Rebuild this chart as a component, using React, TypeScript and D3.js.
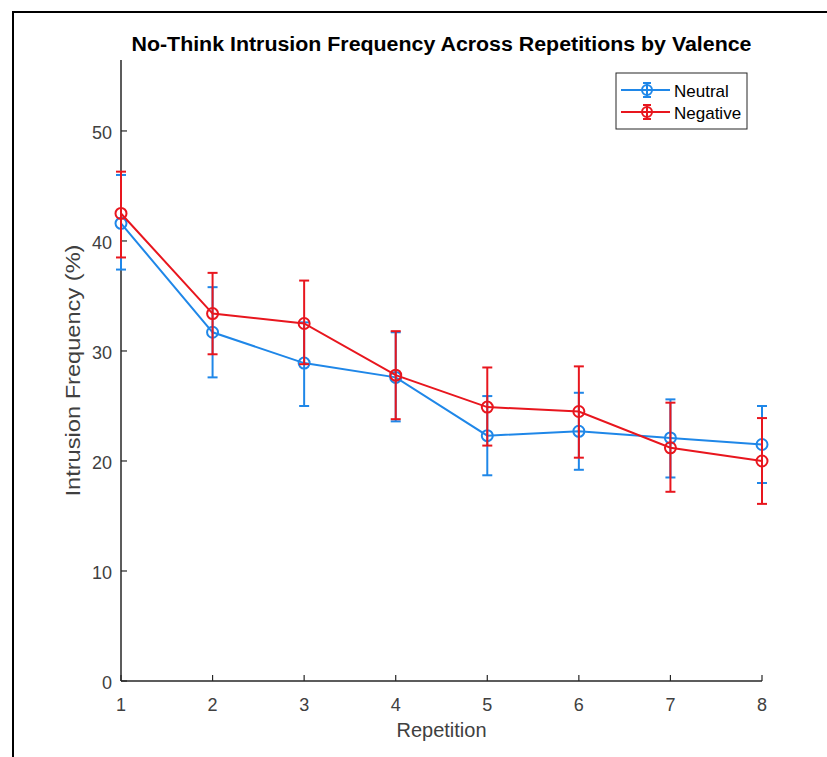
import * as d3 from 'd3'

const repetitions = [1, 2, 3, 4, 5, 6, 7, 8]
const neutralMean = [41.6, 31.7, 28.9, 27.6, 22.3, 22.7, 22.1, 21.5]
const neutralUpper = [46.0, 35.8, 32.6, 31.7, 25.9, 26.2, 25.6, 25.0]
const neutralLower = [37.4, 27.6, 25.0, 23.6, 18.7, 19.2, 18.5, 18.0]
const negativeMean = [42.5, 33.4, 32.5, 27.8, 24.9, 24.5, 21.2, 20.0]
const negativeUpper = [46.3, 37.1, 36.4, 31.8, 28.5, 28.6, 25.3, 23.9]
const negativeLower = [38.5, 29.7, 28.8, 23.8, 21.4, 20.3, 17.2, 16.1]
const yTicks = [0, 10, 20, 30, 40, 50]
const seriesNames = ['Neutral', 'Negative']

const FONT = '"Liberation Sans", Arial, Helvetica, sans-serif'
const AXIS = '#262626'
const LABEL = '#404040'

export default function App() {
  const width = 827, height = 757
  const margin = { top: 60, left: 121, right: 65, bottom: 76 }

  const x = d3.scaleLinear().domain([1, 8]).range([margin.left, width - margin.right])
  const y = d3.scaleLinear().domain([0, 56.45]).range([height - margin.bottom, margin.top])

  const series = [
    { name: seriesNames[0], color: '#1f87e8', mean: neutralMean, up: neutralUpper, lo: neutralLower },
    { name: seriesNames[1], color: '#e8161e', mean: negativeMean, up: negativeUpper, lo: negativeLower },
  ]

  const line = d3.line<number>()
    .x((_, i) => x(repetitions[i]))
    .y(d => y(d))

  const cap = 5
  const r = 5.5
  const x0 = x(1), x1 = x(8), yb = y(0), yt = y(56.45)

  return (
    <svg width={width} height={height} style={{ position: 'absolute', left: 0, top: 0, background: '#fff' }}>
      <rect x={13} y={12} width={width} height={height} fill="none" stroke="#000" strokeWidth={2} />

      <text x={(x0 + x1) / 2} y={51} textAnchor="middle" fontFamily={FONT} fontWeight="bold" fontSize={20}
        textLength={620} lengthAdjust="spacingAndGlyphs" fill="#000">
        No-Think Intrusion Frequency Across Repetitions by Valence
      </text>

      {/* axes */}
      <line x1={x0} x2={x0} y1={yt} y2={yb} stroke={AXIS} strokeWidth={1.5} />
      <line x1={x0} x2={x1} y1={yb} y2={yb} stroke={AXIS} strokeWidth={1.5} />
      {yTicks.map(t => (
        <g key={'y' + t}>
          <line x1={x0} x2={x0 + 6} y1={y(t)} y2={y(t)} stroke={AXIS} strokeWidth={1.2} />
          <text x={x0 - 9} y={y(t) + 8} textAnchor="end" fontFamily={FONT} fontSize={18} fill={LABEL}>{t}</text>
        </g>
      ))}
      {repetitions.map(t => (
        <g key={'x' + t}>
          <line x1={x(t)} x2={x(t)} y1={yb} y2={yb - 6} stroke={AXIS} strokeWidth={1.2} />
          <text x={x(t)} y={yb + 30} textAnchor="middle" fontFamily={FONT} fontSize={18} fill={LABEL}>{t}</text>
        </g>
      ))}
      <text x={(x0 + x1) / 2} y={737} textAnchor="middle" fontFamily={FONT} fontSize={20}
        textLength={90} lengthAdjust="spacingAndGlyphs" fill={LABEL}>Repetition</text>
      <text transform={`translate(80, ${(yt + yb) / 2}) rotate(-90)`} textAnchor="middle" fontFamily={FONT} fontSize={19.5}
        textLength={252} lengthAdjust="spacingAndGlyphs" fill={LABEL}>
        Intrusion Frequency (%)
      </text>

      {/* series */}
      {series.map(s => (
        <g key={s.name}>
          <path d={line(s.mean) || ''} fill="none" stroke={s.color} strokeWidth={2} />
          {repetitions.map((rep, i) => (
            <g key={rep} stroke={s.color} strokeWidth={2} fill="none">
              <line x1={x(rep)} x2={x(rep)} y1={y(s.up[i])} y2={y(s.lo[i])} />
              <line x1={x(rep) - cap} x2={x(rep) + cap} y1={y(s.up[i])} y2={y(s.up[i])} />
              <line x1={x(rep) - cap} x2={x(rep) + cap} y1={y(s.lo[i])} y2={y(s.lo[i])} />
              <circle cx={x(rep)} cy={y(s.mean[i])} r={r} />
            </g>
          ))}
        </g>
      ))}

      {/* legend */}
      <rect x={616} y={73} width={131} height={56} fill="#fff" stroke={AXIS} strokeWidth={1} />
      {series.map((s, i) => {
        const ly = 90 + i * 22
        return (
          <g key={'lg' + s.name}>
            <g stroke={s.color} strokeWidth={2} fill="none">
              <line x1={621} x2={670} y1={ly} y2={ly} />
              <line x1={647} x2={647} y1={ly - 7} y2={ly + 7} />
              <line x1={643} x2={651} y1={ly - 7} y2={ly - 7} />
              <line x1={643} x2={651} y1={ly + 7} y2={ly + 7} />
              <circle cx={647} cy={ly} r={5} />
            </g>
            <text x={674} y={ly + 6.5} fontFamily={FONT} fontSize={17} fill="#000">{s.name}</text>
          </g>
        )
      })}
    </svg>
  )
}
